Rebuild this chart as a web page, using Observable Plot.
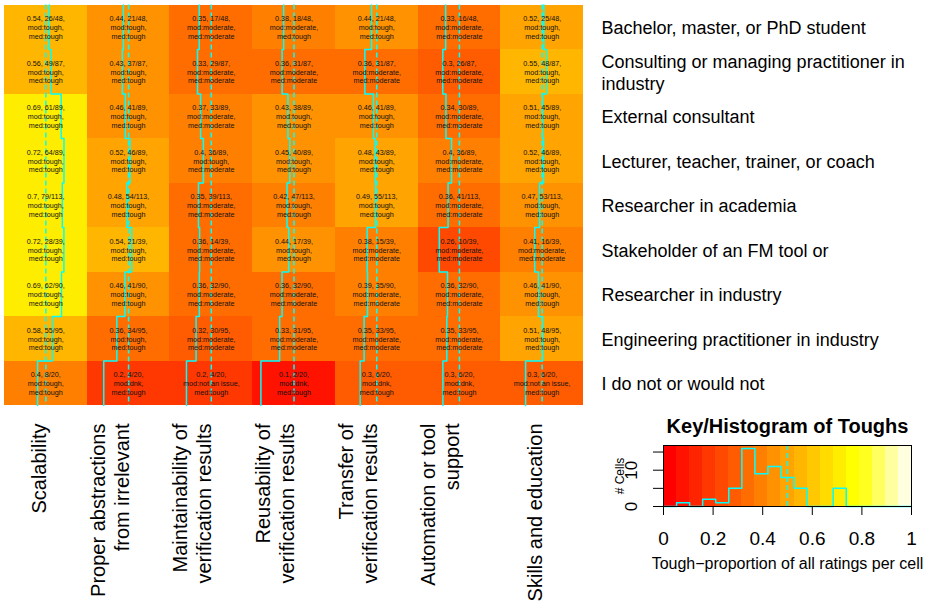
<!DOCTYPE html>
<html><head><meta charset="utf-8">
<script src="https://cdn.jsdelivr.net/npm/d3@7"></script>
<script src="https://cdn.jsdelivr.net/npm/@observablehq/plot@0.6"></script>
<style>
body{margin:0;background:#fff;}
#wrap{position:relative;width:934px;height:602px;overflow:hidden;font-family:"Liberation Sans",Arial,sans-serif;}
#main{position:absolute;left:0;top:0;}
#key{position:absolute;left:600px;top:405px;}
</style></head>
<body><div id="wrap"><div id="main"></div><div id="key"></div></div>
<script>
const columns = ["Scalability","Proper abstractions\nfrom irrelevant","Maintainability of\nverification results","Reusability of\nverification results","Transfer of\nverification results","Automation or tool\nsupport","Skills and education"];
const roles = ["Bachelor, master, or PhD student","Consulting or managing practitioner in\nindustry","External consultant","Lecturer, teacher, trainer, or coach","Researcher in academia","Stakeholder of an FM tool or","Researcher in industry","Engineering practitioner in industry","I do not or would not"];
const respondents = [48, 87, 89, 89, 113, 39, 90, 95, 20];
const toughCounts = [
  [26, 21, 17, 18, 21, 16, 25],
  [49, 37, 29, 31, 31, 26, 48],
  [61, 41, 33, 38, 41, 30, 45],
  [64, 46, 36, 40, 43, 36, 46],
  [79, 54, 39, 47, 55, 41, 53],
  [28, 21, 14, 17, 15, 10, 16],
  [62, 41, 32, 32, 35, 32, 41],
  [55, 34, 30, 31, 33, 33, 48],
  [8, 4, 4, 2, 6, 6, 6]
];
const modeRating = [
  ["tough","tough","moderate","moderate","tough","moderate","tough"],
  ["tough","tough","moderate","moderate","moderate","moderate","tough"],
  ["tough","tough","moderate","tough","tough","moderate","tough"],
  ["tough","tough","tough","tough","tough","moderate","tough"],
  ["tough","tough","moderate","tough","tough","moderate","tough"],
  ["tough","tough","moderate","tough","moderate","moderate","moderate"],
  ["tough","tough","moderate","moderate","moderate","moderate","tough"],
  ["tough","tough","moderate","moderate","moderate","moderate","tough"],
  ["tough","dnk","not an issue","dnk","dnk","dnk","not an issue"]
];
const medianRating = [
  ["tough","tough","moderate","tough","tough","moderate","tough"],
  ["tough","tough","moderate","moderate","moderate","moderate","tough"],
  ["tough","tough","moderate","tough","tough","moderate","tough"],
  ["tough","tough","moderate","tough","tough","moderate","tough"],
  ["tough","tough","moderate","tough","tough","moderate","tough"],
  ["tough","tough","moderate","tough","moderate","moderate","moderate"],
  ["tough","tough","moderate","moderate","moderate","moderate","tough"],
  ["tough","tough","moderate","moderate","moderate","moderate","tough"],
  ["tough","tough","tough","tough","tough","tough","tough"]
];
const keyTicks = [0, 0.2, 0.4, 0.6, 0.8, 1];
const countTicks = [0, 5, 10, 15];
const countTickLabels = ["0", "", "10", ""];
const nBins = 19;
const heatPalette = ["#FF0000","#FF1200","#FF2400","#FF3700","#FF4900","#FF5B00","#FF6D00","#FF8000","#FF9200","#FFA400","#FFB600","#FFC800","#FFDB00","#FFED00","#FFFF00","#FFFF20","#FFFF60","#FFFF9F","#FFFFDF"];
const keyTitle = "Key/Histogram of Toughs";
const keyXLabel = "Tough\u2212proportion of all ratings per cell";
const keyYLabel = "# Cells";

const FONT = '"Liberation Sans", Arial, Helvetica, sans-serif';
const CYAN = "#00FFFF";
const breaks = d3.range(nBins + 1).map(i => i / nBins);
const binOf = v => Math.max(0, Math.min(nBins - 1, Math.ceil(v * nBins - 1e-7) - 1));

const cells = [];
roles.forEach((role, r) => columns.forEach((col, c) => {
  const k = toughCounts[r][c], n = respondents[r], p = k / n;
  cells.push({r, c, p, bin: binOf(p),
    label: `${+p.toFixed(2)}, ${k}/${n},\nmod:${modeRating[r][c]},\nmed:${medianRating[r][c]}`});
}));
const trace = [];
columns.forEach((col, c) => roles.forEach((role, r) => {
  const p = toughCounts[r][c] / respondents[r];
  trace.push({c, x: c + p, y: r}, {c, x: c + p, y: r + 1});
}));

const main = Plot.plot({
  width: 934, height: 602,
  marginTop: 4.5, marginLeft: 4, marginRight: 351, marginBottom: 197,
  x: {domain: [0, columns.length], axis: null},
  y: {domain: [0, roles.length], reverse: true, axis: null},
  color: {type: "ordinal", domain: d3.range(nBins), range: heatPalette},
  style: {fontFamily: FONT, background: "white"},
  marks: [
    Plot.rect(cells, {x1: d => d.c, x2: d => d.c + 1, y1: d => d.r, y2: d => d.r + 1, fill: "bin", shapeRendering: "crispEdges"}),
    Plot.ruleX(columns.map((d, i) => i), {x: d => d + 0.5, y1: () => 0, y2: () => roles.length, stroke: CYAN, strokeWidth: 1.5, strokeDasharray: "5,3"}),
    Plot.line(trace, {x: "x", y: "y", z: "c", stroke: CYAN, strokeWidth: 1.5}),
    Plot.text(cells, {x: d => d.c + 0.5, y: d => d.r + 0.5, text: "label", fontSize: 7.2, lineHeight: 1.22, fill: "#111"}),
    Plot.text(roles, {x: () => columns.length, y: (d, i) => i + 0.5, text: d => d, textAnchor: "start", dx: 18, fontSize: 18, lineHeight: 1.25, fill: "black"}),
    Plot.text(columns, {x: (d, i) => i + 0.5, y: () => roles.length, text: d => d, rotate: -90, textAnchor: "end", lineAnchor: "bottom", dy: 18, dx: 0, fontSize: 20, lineHeight: 1.2, fill: "black"})
  ]
});
document.getElementById("main").appendChild(main);

const hist = new Array(nBins).fill(0);
cells.forEach(d => hist[d.bin]++);
const histLine = breaks.map((b, i) => ({x: b, y: hist[Math.min(i, nBins - 1)]}));
const yMax = d3.max(hist) * 1.05;
const bands = d3.range(nBins).map(i => ({x1: breaks[i], x2: breaks[i + 1], bin: i}));

const key = Plot.plot({
  width: 334, height: 197,
  marginLeft: 63, marginRight: 23, marginTop: 40, marginBottom: 96,
  x: {domain: [0, 1]},
  y: {domain: [0, yMax]},
  color: {type: "ordinal", domain: d3.range(nBins), range: heatPalette},
  style: {fontFamily: FONT, fontSize: "19px", background: "white"},
  marks: [
    Plot.rect(bands, {x1: "x1", x2: "x2", y1: () => 0, y2: () => yMax, fill: "bin", shapeRendering: "crispEdges"}),
    Plot.ruleX([0.5], {stroke: CYAN, strokeWidth: 1.5, strokeDasharray: "5,3"}),
    Plot.line(histLine, {x: "x", y: "y", curve: "step-after", stroke: CYAN, strokeWidth: 1.5}),
    Plot.frame({stroke: "black"}),
    Plot.axisX({ticks: keyTicks, tickFormat: d => String(d), tickSize: 9, tickPadding: 16, label: null, fontSize: 19}),
    Plot.axisY({ticks: countTicks, tickSize: 10, tickFormat: () => "", label: null}),
    Plot.text(countTicks, {x: () => 0, y: d => d, text: (d, i) => countTickLabels[i], rotate: -90, textAnchor: "middle", lineAnchor: "bottom", dx: -27, fontSize: 17, fill: "black"}),
    Plot.text([keyYLabel], {frameAnchor: "left", text: d => d, rotate: -90, textAnchor: "middle", lineAnchor: "bottom", dx: -40, fontSize: 12, fill: "black"}),
    Plot.text([keyTitle], {frameAnchor: "top", text: d => d, lineAnchor: "bottom", dy: -13, fontSize: 20, fontWeight: "bold", fill: "black"}),
    Plot.text([keyXLabel], {frameAnchor: "bottom", text: d => d, lineAnchor: "bottom", dy: 62, fontSize: 16, fill: "black"})
  ]
});
document.getElementById("key").appendChild(key);
</script>
</body></html>
